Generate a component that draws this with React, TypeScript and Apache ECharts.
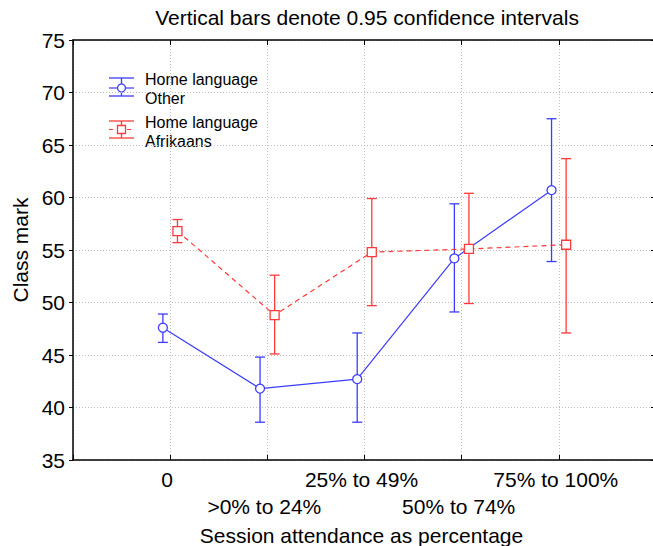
import React, { useEffect, useRef } from "react";
import * as echarts from "echarts";

const categories = ["0", ">0% to 24%", "25% to 49%", "50% to 74%", "75% to 100%"];
const otherMean = [47.6, 41.8, 42.7, 54.2, 60.7];
const otherLow = [46.2, 38.6, 38.6, 49.1, 53.9];
const otherHigh = [48.9, 44.8, 47.1, 59.4, 67.5];
const afrMean = [56.8, 48.8, 54.8, 55.1, 55.5];
const afrLow = [55.7, 45.1, 49.7, 49.9, 47.1];
const afrHigh = [57.9, 52.6, 59.9, 60.4, 63.7];
const yMin = 35;
const yMax = 75;
const yStep = 5;
const groupOffset = 0.075;

const BLUE = "#3c3cff";
const RED = "#ff3a3a";
const FONT = "Liberation Sans, Arial, sans-serif";

function errorSeries(x: number[], lo: number[], hi: number[], color: string) {
  return {
    type: "custom",
    xAxisIndex: 0,
    yAxisIndex: 0,
    z: 2,
    data: x.map((v, i) => [v, lo[i], hi[i]]),
    encode: { x: 0, y: [1, 2] },
    renderItem: (params: any, api: any) => {
      const xv = api.value(0);
      const pLo = api.coord([xv, api.value(1)]);
      const pHi = api.coord([xv, api.value(2)]);
      const hw = 5;
      const st = { stroke: color, lineWidth: 1.3 };
      return {
        type: "group",
        children: [
          { type: "line", shape: { x1: pLo[0], y1: pLo[1], x2: pHi[0], y2: pHi[1] }, style: st },
          { type: "line", shape: { x1: pLo[0] - hw, y1: pLo[1], x2: pLo[0] + hw, y2: pLo[1] }, style: st },
          { type: "line", shape: { x1: pHi[0] - hw, y1: pHi[1], x2: pHi[0] + hw, y2: pHi[1] }, style: st },
        ],
      };
    },
  };
}

export default function App() {
  const ref = useRef<HTMLDivElement>(null);
  useEffect(() => {
    document.body.style.margin = "0";
    const chart = echarts.init(ref.current!, undefined, { renderer: "svg" });
    const xOther = categories.map((_, i) => i - groupOffset);
    const xAfr = categories.map((_, i) => i + groupOffset);
    const axisLineStyle = { color: "#000", width: 1.5 };
    const split = { show: true, lineStyle: { color: "#bdbdbd", type: [1, 2], width: 1 } };
    chart.setOption({
      animation: false,
      textStyle: { fontFamily: FONT },
      title: {
        text: "Vertical bars denote 0.95 confidence intervals",
        left: 362,
        textAlign: "center",
        top: 2,
        textStyle: { fontFamily: FONT, fontSize: 21, fontWeight: "normal", color: "#000" },
      },
      grid: { left: 73, right: -3, top: 40, bottom: 86, outerBoundsMode: "none", containLabel: false },
      xAxis: [
        {
          type: "value",
          position: "bottom",
          min: -1,
          max: categories.length,
          interval: 1,
          axisLine: { show: true, onZero: false, lineStyle: axisLineStyle },
          axisTick: { show: true, inside: true, length: 5, lineStyle: { color: "#000", width: 1 } },
          splitLine: split,
          axisLabel: {
            margin: 6,
            fontSize: 21,
            lineHeight: 27,
            color: "#000",
            fontFamily: FONT,
            padding: [0, 6, 0, 0],
            formatter: (v: number) => {
              const i = Math.round(v);
              if (i < 0 || i >= categories.length) return "";
              return i % 2 === 1 ? "\n" + categories[i] : categories[i];
            },
          },
          name: "Session attendance as percentage",
          nameLocation: "middle",
          nameGap: 59,
          nameTextStyle: { fontSize: 21, lineHeight: 22, color: "#000", fontFamily: FONT, padding: [0, 6, 0, 0] },
        },
        {
          type: "value",
          position: "top",
          min: -1,
          max: categories.length,
          interval: 1,
          axisLine: { show: true, onZero: false, lineStyle: axisLineStyle },
          axisTick: { show: true, inside: true, length: 5, lineStyle: { color: "#000", width: 1 } },
          axisLabel: { show: false },
          splitLine: { show: false },
        },
      ],
      yAxis: [
        {
          type: "value",
          position: "left",
          min: yMin,
          max: yMax,
          interval: yStep,
          axisLine: { show: true, onZero: false, lineStyle: axisLineStyle },
          axisTick: { show: true, inside: false, length: 4, lineStyle: { color: "#000", width: 1 } },
          splitLine: split,
          axisLabel: { margin: 8, fontSize: 21, color: "#000", fontFamily: FONT },
          name: "Class mark",
          nameLocation: "middle",
          nameGap: 41,
          nameTextStyle: { fontSize: 21, color: "#000", fontFamily: FONT },
        },
        {
          type: "value",
          position: "right",
          min: yMin,
          max: yMax,
          interval: yStep,
          axisLine: { show: true, onZero: false, lineStyle: axisLineStyle },
          axisTick: { show: true, inside: true, length: 5, lineStyle: { color: "#000", width: 1 } },
          axisLabel: { show: false },
          splitLine: { show: false },
        },
      ],
      series: [
        errorSeries(xOther, otherLow, otherHigh, BLUE),
        errorSeries(xAfr, afrLow, afrHigh, RED),
        {
          type: "line",
          name: "Home language Other",
          xAxisIndex: 0,
          yAxisIndex: 0,
          z: 3,
          data: xOther.map((x, i) => [x, otherMean[i]]),
          symbol: "circle",
          symbolSize: 9,
          lineStyle: { color: BLUE, width: 1.2 },
          itemStyle: { color: "#fff", borderColor: BLUE, borderWidth: 1.3 },
        },
        {
          type: "line",
          name: "Home language Afrikaans",
          xAxisIndex: 0,
          yAxisIndex: 0,
          z: 3,
          data: xAfr.map((x, i) => [x, afrMean[i]]),
          symbol: "rect",
          symbolSize: 9,
          lineStyle: { color: RED, width: 1.2, type: [5, 4] },
          itemStyle: { color: "#fff", borderColor: RED, borderWidth: 1.3 },
        },
      ],
      graphic: [
        {
          type: "group",
          z: 100,
          children: [
            { type: "rect", shape: { x: 102, y: 68, width: 163, height: 80 }, style: { fill: "#fff" } },
            { type: "line", shape: { x1: 109, y1: 78, x2: 134, y2: 78 }, style: { stroke: BLUE, lineWidth: 1.3 } },
            { type: "line", shape: { x1: 109, y1: 96, x2: 134, y2: 96 }, style: { stroke: BLUE, lineWidth: 1.3 } },
            { type: "line", shape: { x1: 121.5, y1: 78, x2: 121.5, y2: 96 }, style: { stroke: BLUE, lineWidth: 1.3 } },
            { type: "line", shape: { x1: 109, y1: 88, x2: 134, y2: 88 }, style: { stroke: BLUE, lineWidth: 1.2 } },
            { type: "circle", shape: { cx: 121.5, cy: 88, r: 4 }, style: { fill: "#fff", stroke: BLUE, lineWidth: 1.3 } },
            {
              type: "text",
              x: 145,
              y: 70,
              style: { text: "Home language\nOther", fontSize: 16, lineHeight: 19, fill: "#000", fontFamily: FONT },
            },
            { type: "line", shape: { x1: 109, y1: 121, x2: 134, y2: 121 }, style: { stroke: RED, lineWidth: 1.3 } },
            { type: "line", shape: { x1: 109, y1: 138, x2: 134, y2: 138 }, style: { stroke: RED, lineWidth: 1.3 } },
            { type: "line", shape: { x1: 121.5, y1: 121, x2: 121.5, y2: 138 }, style: { stroke: RED, lineWidth: 1.3 } },
            { type: "line", shape: { x1: 109, y1: 129.5, x2: 134, y2: 129.5 }, style: { stroke: RED, lineWidth: 1.2, lineDash: [4, 5] } },
            { type: "rect", shape: { x: 117.5, y: 125.5, width: 8, height: 8 }, style: { fill: "#fff", stroke: RED, lineWidth: 1.3 } },
            {
              type: "text",
              x: 145,
              y: 113,
              style: { text: "Home language\nAfrikaans", fontSize: 16, lineHeight: 19, fill: "#000", fontFamily: FONT },
            },
          ],
        },
      ],
    });
    return () => chart.dispose();
  }, []);
  return <div ref={ref} style={{ width: 653, height: 546 }} />;
}
